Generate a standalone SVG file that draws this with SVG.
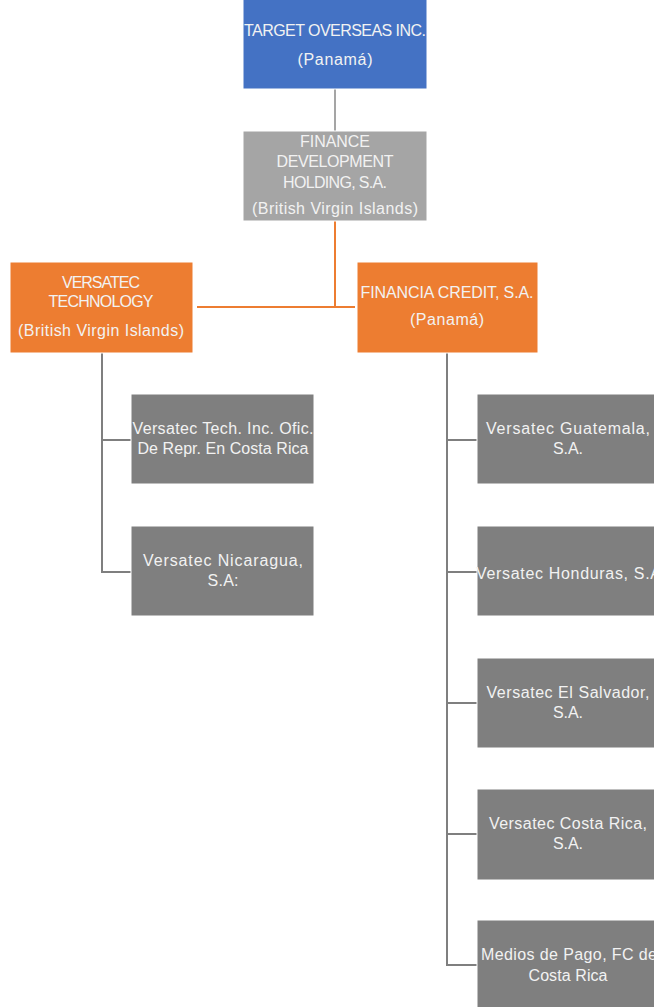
<svg xmlns="http://www.w3.org/2000/svg" width="654" height="1007" viewBox="0 0 654 1007">
<style>
.t{font-family:"Liberation Sans",Arial,sans-serif;font-size:16px;fill:#F2F2F2;text-anchor:middle}
.blue{fill:#4472C4;stroke:#FFFFFF;stroke-width:1}
.lg{fill:#A5A5A5;stroke:#FFFFFF;stroke-width:1}
.or{fill:#ED7D31;stroke:#FFFFFF;stroke-width:1}
.dg{fill:#7F7F7F;stroke:#FFFFFF;stroke-width:1}
.c{fill:none;stroke-width:2}
</style>
<rect width="654" height="1007" fill="#FFFFFF"/>
<g id="connectors">
<line class="c" x1="335" y1="89" x2="335" y2="131" stroke="#A5A5A5"/>
<polyline class="c" points="335,221 335,307 197,307" stroke="#ED7D31"/>
<line class="c" x1="335" y1="307" x2="355" y2="307" stroke="#ED7D31"/>
<polyline class="c" points="102,353 102,572 131,572" stroke="#7F7F7F"/>
<line class="c" x1="102" y1="440" x2="131" y2="440" stroke="#7F7F7F"/>
<polyline class="c" points="447,353 447,965 477,965" stroke="#7F7F7F"/>
<line class="c" x1="447" y1="440" x2="477" y2="440" stroke="#7F7F7F"/>
<line class="c" x1="447" y1="572" x2="477" y2="572" stroke="#7F7F7F"/>
<line class="c" x1="447" y1="703" x2="477" y2="703" stroke="#7F7F7F"/>
<line class="c" x1="447" y1="834" x2="477" y2="834" stroke="#7F7F7F"/>
</g>
<g id="target">
<rect class="blue" x="243" y="-1" width="184" height="90"/>
<text class="t" x="335" y="36" textLength="182">TARGET OVERSEAS INC.</text>
<text class="t" x="335" y="65" textLength="75">(Panamá)</text>
</g>
<g id="finance">
<rect class="lg" x="243" y="131" width="184" height="90"/>
<text class="t" x="335" y="147" textLength="70">FINANCE</text>
<text class="t" x="335" y="167" textLength="117">DEVELOPMENT</text>
<text class="t" x="335" y="188" textLength="104">HOLDING, S.A.</text>
<text class="t" x="335" y="214" textLength="166">(British Virgin Islands)</text>
</g>
<g id="versatec-technology">
<rect class="or" x="10" y="262" width="183" height="91"/>
<text class="t" x="101" y="288" textLength="78">VERSATEC</text>
<text class="t" x="101" y="307" textLength="105">TECHNOLOGY</text>
<text class="t" x="101" y="336" textLength="166">(British Virgin Islands)</text>
</g>
<g id="financia-credit">
<rect class="or" x="357" y="262" width="181" height="91"/>
<text class="t" x="447" y="298" textLength="173">FINANCIA CREDIT, S.A.</text>
<text class="t" x="447" y="325" textLength="74">(Panamá)</text>
</g>
<g id="versatec-tech-cr">
<rect class="dg" x="131" y="394" width="183" height="90"/>
<text class="t" x="223" y="434" textLength="181">Versatec Tech. Inc. Ofic.</text>
<text class="t" x="223" y="454" textLength="171">De Repr. En Costa Rica</text>
</g>
<g id="versatec-nicaragua">
<rect class="dg" x="131" y="526" width="183" height="90"/>
<text class="t" x="223" y="566" textLength="160">Versatec Nicaragua,</text>
<text class="t" x="223" y="586" textLength="31">S.A:</text>
</g>
<g id="versatec-guatemala">
<rect class="dg" x="477" y="394" width="183" height="90"/>
<text class="t" x="568" y="434" textLength="164">Versatec Guatemala,</text>
<text class="t" x="568" y="454" textLength="30">S.A.</text>
</g>
<g id="versatec-honduras">
<rect class="dg" x="477" y="526" width="183" height="90"/>
<text class="t" x="568.5" y="579" textLength="185">Versatec Honduras, S.A</text>
</g>
<g id="versatec-el-salvador">
<rect class="dg" x="477" y="658" width="183" height="90"/>
<text class="t" x="568" y="698" textLength="163">Versatec El Salvador,</text>
<text class="t" x="568" y="718" textLength="30">S.A.</text>
</g>
<g id="versatec-costa-rica">
<rect class="dg" x="477" y="789" width="183" height="91"/>
<text class="t" x="568" y="829" textLength="158">Versatec Costa Rica,</text>
<text class="t" x="568" y="849" textLength="30">S.A.</text>
</g>
<g id="medios-de-pago">
<rect class="dg" x="477" y="920" width="183" height="90"/>
<text class="t" x="569" y="960" textLength="176">Medios de Pago, FC de</text>
<text class="t" x="568" y="981" textLength="79">Costa Rica</text>
</g>
</svg>
